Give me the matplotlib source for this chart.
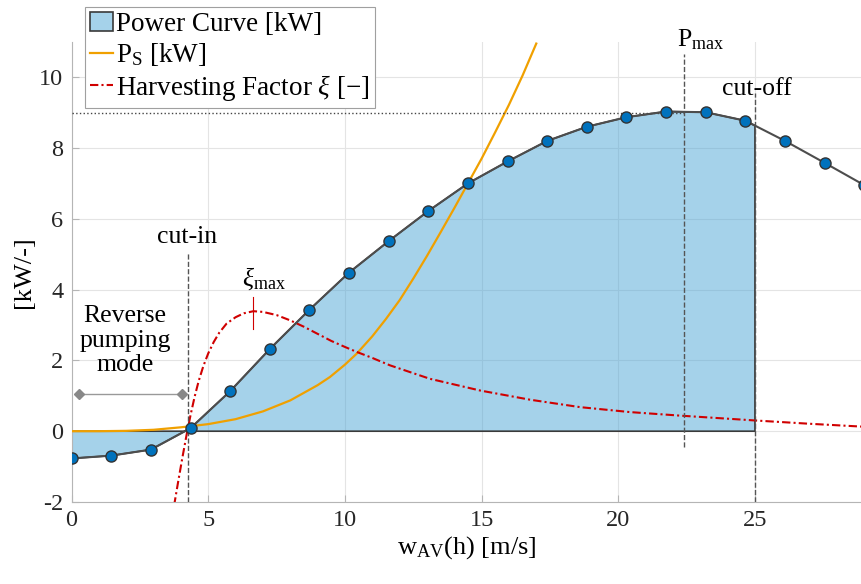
import numpy as np
import matplotlib
matplotlib.use("Agg")
import matplotlib.pyplot as plt

plt.rcParams['font.family'] = ['Liberation Serif', 'DejaVu Serif']
plt.rcParams['mathtext.fontset'] = 'custom'
plt.rcParams['mathtext.rm'] = 'Liberation Serif'
plt.rcParams['mathtext.it'] = 'Liberation Serif:italic'
plt.rcParams['axes.unicode_minus'] = False

# power curve samples (markers)
w_pc = [0.0, 1.45, 2.9, 4.35, 5.8, 7.25, 8.7, 10.15, 11.6, 13.05, 14.5,
        15.95, 17.4, 18.85, 20.3, 21.75, 23.2, 24.65, 26.1, 27.55, 29.0]
p_pc = [-0.77, -0.69, -0.52, 0.085, 1.13, 2.32, 3.43, 4.48, 5.37, 6.22, 7.0,
        7.62, 8.2, 8.6, 8.87, 9.03, 9.01, 8.77, 8.2, 7.58, 6.95]

# P_S curve
w_ps = [0, 1, 2, 3, 4, 5, 6, 7, 8, 9, 9.45, 10.0, 10.43, 11.0, 11.5, 12.0,
        12.5, 13.0, 13.5, 14.0, 14.5, 15.0, 15.5, 16.0, 16.5, 17.0]
p_ps = [0, 0.0, 0.01, 0.04, 0.11, 0.2, 0.34, 0.56, 0.87, 1.3, 1.53, 1.88,
        2.19, 2.68, 3.17, 3.7, 4.31, 4.95, 5.62, 6.3, 7.0, 7.7, 8.45, 9.22,
        10.05, 10.95]

# harvesting factor
w_xi = [3.75, 3.9, 4.05, 4.2, 4.35, 4.5, 4.65, 4.82, 5.0, 5.2, 5.4, 5.67,
        6.0, 6.3, 6.65, 7.0, 7.5, 8.0, 8.5, 9.0, 9.5, 10.0, 10.43, 11.0,
        11.65, 13.11, 14.94, 16.77, 18.6, 20.43, 22.26, 25.07, 27.0, 28.9]
xi = [-2.1, -1.42, -0.76, -0.13, 0.45, 0.97, 1.42, 1.84, 2.2, 2.52, 2.78,
      3.04, 3.22, 3.33, 3.39, 3.37, 3.28, 3.13, 2.95, 2.75, 2.55, 2.38, 2.24,
      2.07, 1.86, 1.48, 1.15, 0.89, 0.68, 0.54, 0.44, 0.30, 0.21, 0.13]

w_cutin = 4.27
w_pmax = 22.4
w_cutoff = 25.0
p_max = 9.0
w_ximax = 6.62

fig = plt.figure(figsize=(8.61, 5.84), dpi=100)
ax = fig.add_axes([71.6 / 861, 1 - 502 / 584, (861 - 71.6) / 861, (502 - 41.8) / 584])

# filled power curve up to cut-off
w_arr = np.array(w_pc)
p_arr = np.array(p_pc)
keep = w_arr < w_cutoff
wf = np.append(w_arr[keep], w_cutoff)
pf = np.append(p_arr[keep], np.interp(w_cutoff, w_arr, p_arr))
wf = np.concatenate([[0], wf, [w_cutoff], [0]])
pf = np.concatenate([[0], pf, [0], [0]])
ax.fill(wf, pf, facecolor=(0.30, 0.65, 0.84, 0.5), edgecolor='#3a3a3a',
        linewidth=1.2, zorder=2, label='Power Curve [kW]')

ax.plot(w_pc, p_pc, '-', color='#4d4d4d', lw=1.5, zorder=4)
ax.plot(w_pc, p_pc, 'o', color='#0072BD', mec='#333333', mew=1.0, ms=8,
        zorder=5)

ax.plot(w_ps, p_ps, '-', color='#F0A000', lw=1.6, zorder=3, label=r'P$_\mathrm{S}$ [kW]')
xi_line, = ax.plot(w_xi, xi, '-.', color='#D00000', lw=1.5, zorder=3,
                   label=r'Harvesting Factor $\xi$ [$-$]')
xi_line.set_dashes([4, 1.5, 1, 1.5])

# reference lines
ax.plot([0, w_pmax], [p_max, p_max], ':', color='#444444', lw=1.0, zorder=3)
ax.plot([w_cutin, w_cutin], [-2, 5.05], '--', color='#555555', lw=1.0, zorder=3)
ax.plot([w_pmax, w_pmax], [-0.46, 10.65], '--', color='#555555', lw=1.0, zorder=3)
ax.plot([w_cutoff, w_cutoff], [-2, 9.55], '--', color='#555555', lw=1.0, zorder=3)
ax.plot([w_ximax, w_ximax], [2.9, 3.78], '-', color='#D00000', lw=0.8, zorder=3)

# reverse pumping arrow
ax.plot([0.27, 4.03], [1.06, 1.06], '-', color='#999999', lw=1.0, marker='D',
        ms=5, mfc='#888888', mec='#888888', zorder=3)

txt = dict(fontsize=18.5, color='black', ha='center', va='center')
ax.text(1.96, 2.56, 'Reverse\npumping\nmode', linespacing=1.15, **txt)
ax.text(4.22, 5.49, 'cut-in', **txt)
ax.text(25.08, 9.66, 'cut-off', **txt)
ax.text(7.05, 4.3, r'$\xi_\mathrm{max}$', **txt)
ax.text(23.0, 11.05, r'P$_\mathrm{max}$', clip_on=False, **txt)

ax.set_xlim(0, 28.88)
ax.set_ylim(-2, 11)
ax.set_xticks([0, 5, 10, 15, 20, 25])
ax.set_yticks([-2, 0, 2, 4, 6, 8, 10])
ax.grid(True, color='#e4e4e4', lw=0.8)
ax.set_axisbelow(True)
for s in ['top', 'right']:
    ax.spines[s].set_visible(False)
for s in ['left', 'bottom']:
    ax.spines[s].set_color('#b5b5b5')
ax.tick_params(direction='in', length=5, color='#b5b5b5', labelsize=17.5,
               labelcolor='#262626', pad=6)
ax.set_xlabel(r'w$_\mathrm{AV}$(h) [m/s]', fontsize=19, labelpad=2)
ax.set_ylabel('[kW/-]', fontsize=19, labelpad=3)

leg = fig.legend(loc='upper left', bbox_to_anchor=(85 / 861, 1 - 7 / 584),
                 fontsize=19.5, handlelength=0.85, handletextpad=0.1,
                 labelspacing=0.15, borderpad=0.2, borderaxespad=0,
                 fancybox=False, framealpha=1, edgecolor='#a0a0a0')
leg.get_frame().set_linewidth(0.8)

fig.savefig('out.png', dpi=100)
